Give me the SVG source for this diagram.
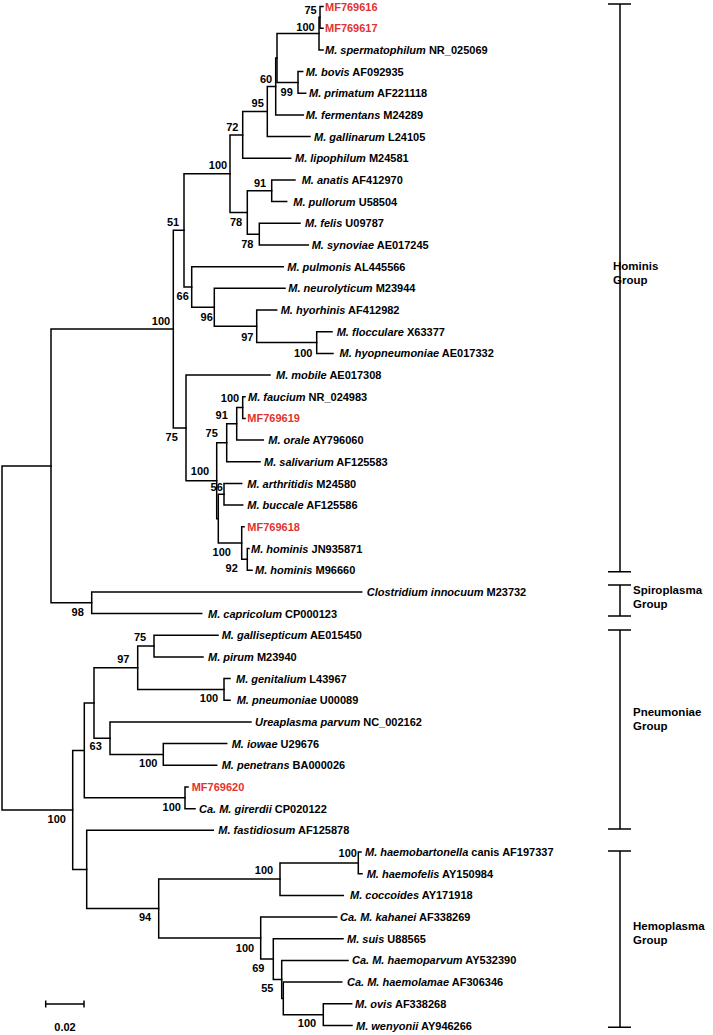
<svg xmlns="http://www.w3.org/2000/svg" width="713" height="1035" viewBox="0 0 713 1035">
<style>
.t{font-family:"Liberation Sans",Arial,sans-serif;font-size:11px;font-weight:bold;fill:#000}
.i{font-style:italic}
.red{fill:#e2332f}
.bs{font-family:"Liberation Sans",Arial,sans-serif;font-size:11px;font-weight:bold;fill:#000;text-anchor:middle}
.g{font-family:"Liberation Sans",Arial,sans-serif;font-size:11.5px;font-weight:bold;fill:#000}
.br{stroke:#000;stroke-width:1.5;fill:none;stroke-linecap:square}
.gr{stroke:#000;stroke-width:1.5;fill:none}
</style>
<rect width="713" height="1035" fill="#fff"/>
<g id="connectors" class="br">
<path d="M2 465.9V810M2 465.9H51M2 810H72.7"/>
<path d="M51 329.1V602.7M51 329.1H173.3M51 602.7H91.7"/>
<path d="M173.3 230.3V427.9M173.3 230.3H184M173.3 427.9H186"/>
<path d="M184 173.7V287M184 173.7H230M184 287H191.7"/>
<path d="M230 134.9V212.5M230 134.9H242.7M230 212.5H247.3"/>
<path d="M242.7 111.5V158.3H290.7M242.7 111.5H267.3"/>
<path d="M267.3 86.5V136.6H310M267.3 86.5H275.7"/>
<path d="M275.7 58V114.9H303.3M275.7 58H277"/>
<path d="M277 33.6V82.4M277 33.6H319M277 82.4H298"/>
<path d="M319 17.3V49.9H323M319 17.3H320"/>
<path d="M320 6.5V28.2M320 6.5H323M320 28.2H323"/>
<path d="M298 71.5V93.2M298 71.5H302.7M298 93.2H305.7"/>
<path d="M247.3 190.8V234.2M247.3 190.8H271.7M247.3 234.2H259.3"/>
<path d="M271.7 179.9V201.6M271.7 179.9H295M271.7 201.6H286.7"/>
<path d="M259.3 223.3V245M259.3 223.3H300M259.3 245H308.3"/>
<path d="M191.7 266.7V307.3M191.7 266.7H283.3M191.7 307.3H214.3"/>
<path d="M214.3 288.3V326.3M214.3 288.3H285M214.3 326.3H256.7"/>
<path d="M256.7 310V342.5M256.7 310H276.7M256.7 342.5H316.7"/>
<path d="M316.7 331.7V353.4M316.7 331.7H332M316.7 353.4H333"/>
<path d="M186 375.1V480.7M186 375.1H270M186 480.7H216.7"/>
<path d="M216.7 442.8V518.7M216.7 442.8H226.7M216.7 518.7H218.3"/>
<path d="M226.7 423.8V461.8M226.7 423.8H236.7M226.7 461.8H260"/>
<path d="M236.7 407.6V440.1M236.7 407.6H242.7M236.7 440.1H263.3"/>
<path d="M242.7 396.7V418.4M242.7 396.7H245M242.7 418.4H245"/>
<path d="M218.3 494.3V543M218.3 494.3H224M218.3 543H241.7"/>
<path d="M224 483.5V505.1M224 483.5H241.7M224 505.1H242.7"/>
<path d="M241.7 526.8V559.3M241.7 526.8H244M241.7 559.3H247.3"/>
<path d="M247.3 548.5V570.2M247.3 548.5H249M247.3 570.2H252"/>
<path d="M91.7 591.9V613.5M91.7 591.9H361.7M91.7 613.5H201.7"/>
<path d="M72.7 750.4V869.5M72.7 750.4H84.3M72.7 869.5H86.7"/>
<path d="M84.3 703V797.8M84.3 703H94M84.3 797.8H185"/>
<path d="M94 667.7V738.2M94 667.7H137.7M94 738.2H110"/>
<path d="M137.7 646V689.4M137.7 646H154M137.7 689.4H224"/>
<path d="M154 635.2V656.9M154 635.2H218M154 656.9H203"/>
<path d="M224 678.6V700.3M224 678.6H230M224 700.3H230"/>
<path d="M110 721.9V754.4M110 721.9H251M110 754.4H163.3"/>
<path d="M163.3 743.6V765.3M163.3 743.6H226.7M163.3 765.3H216.7"/>
<path d="M185 787V808.7M185 787H188M185 808.7H195"/>
<path d="M86.7 830.3V908.6M86.7 830.3H213.3M86.7 908.6H158.7"/>
<path d="M158.7 879.1V938M158.7 879.1H280M158.7 938H260.7"/>
<path d="M280 862.9V895.4M280 862.9H358.3M280 895.4H343.3"/>
<path d="M358.3 852V873.7M358.3 852H361M358.3 873.7H362"/>
<path d="M260.7 917.1V959M260.7 917.1H336.7M260.7 959H273.3"/>
<path d="M273.3 938.7V979.4M273.3 938.7H343M273.3 979.4H281.7"/>
<path d="M281.7 960.4V998.4M281.7 960.4H348M281.7 998.4H283.3"/>
<path d="M283.3 982.1V1014.7M283.3 982.1H341.7M283.3 1014.7H323.3"/>
<path d="M323.3 1003.8V1025.5M323.3 1003.8H351.7M323.3 1025.5H352"/>
</g>
<g id="leaves">
<g id="n0"><text class="t red" x="325" y="10.5">MF769616</text></g>
<g id="n1"><text class="t red" x="325" y="32.2">MF769617</text></g>
<g id="n2"><text class="t" x="325" y="53.9"><tspan class="i">M. spermatophilum</tspan> NR_025069</text></g>
<g id="n3"><text class="t" x="305.7" y="75.5"><tspan class="i">M. bovis</tspan> AF092935</text></g>
<g id="n4"><text class="t" x="309" y="97.2"><tspan class="i">M. primatum</tspan> AF221118</text></g>
<g id="n5"><text class="t" x="305.7" y="118.9"><tspan class="i">M. fermentans</tspan> M24289</text></g>
<g id="n6"><text class="t" x="314" y="140.6"><tspan class="i">M. gallinarum</tspan> L24105</text></g>
<g id="n7"><text class="t" x="295" y="162.3"><tspan class="i">M. lipophilum</tspan> M24581</text></g>
<g id="n8"><text class="t" x="301.7" y="183.9"><tspan class="i">M. anatis</tspan> AF412970</text></g>
<g id="n9"><text class="t" x="293.3" y="205.6"><tspan class="i">M. pullorum</tspan> U58504</text></g>
<g id="n10"><text class="t" x="305" y="227.3"><tspan class="i">M. felis</tspan> U09787</text></g>
<g id="n11"><text class="t" x="311.7" y="249"><tspan class="i">M. synoviae</tspan> AE017245</text></g>
<g id="n12"><text class="t" x="287.3" y="270.7"><tspan class="i">M. pulmonis</tspan> AL445566</text></g>
<g id="n13"><text class="t" x="288.3" y="292.3"><tspan class="i">M. neurolyticum</tspan> M23944</text></g>
<g id="n14"><text class="t" x="280.7" y="314"><tspan class="i">M. hyorhinis</tspan> AF412982</text></g>
<g id="n15"><text class="t" x="336.7" y="335.7"><tspan class="i">M. flocculare</tspan> X63377</text></g>
<g id="n16"><text class="t" x="339.5" y="357.4"><tspan class="i">M. hyopneumoniae</tspan> AE017332</text></g>
<g id="n17"><text class="t" x="276" y="379.1"><tspan class="i">M. mobile</tspan> AE017308</text></g>
<g id="n18"><text class="t" x="248" y="400.7"><tspan class="i">M. faucium</tspan> NR_024983</text></g>
<g id="n19"><text class="t red" x="247.3" y="422.4">MF769619</text></g>
<g id="n20"><text class="t" x="268.3" y="444.1"><tspan class="i">M. orale</tspan> AY796060</text></g>
<g id="n21"><text class="t" x="264" y="465.8"><tspan class="i">M. salivarium</tspan> AF125583</text></g>
<g id="n22"><text class="t" x="247.3" y="487.5"><tspan class="i">M. arthritidis</tspan> M24580</text></g>
<g id="n23"><text class="t" x="247.3" y="509.1"><tspan class="i">M. buccale</tspan> AF125586</text></g>
<g id="n24"><text class="t red" x="247.3" y="530.8">MF769618</text></g>
<g id="n25"><text class="t" x="251" y="552.5"><tspan class="i">M. hominis</tspan> JN935871</text></g>
<g id="n26"><text class="t" x="255" y="574.2"><tspan class="i">M. hominis</tspan> M96660</text></g>
<g id="n27"><text class="t" x="366.7" y="595.9"><tspan class="i">Clostridium innocuum</tspan> M23732</text></g>
<g id="n28"><text class="t" x="208" y="617.5"><tspan class="i">M. capricolum</tspan> CP000123</text></g>
<g id="n29"><text class="t" x="221.7" y="639.2"><tspan class="i">M. gallisepticum</tspan> AE015450</text></g>
<g id="n30"><text class="t" x="208" y="660.9"><tspan class="i">M. pirum</tspan> M23940</text></g>
<g id="n31"><text class="t" x="236" y="682.6"><tspan class="i">M. genitalium</tspan> L43967</text></g>
<g id="n32"><text class="t" x="236.7" y="704.3"><tspan class="i">M. pneumoniae</tspan> U00089</text></g>
<g id="n33"><text class="t" x="255" y="725.9"><tspan class="i">Ureaplasma parvum</tspan> NC_002162</text></g>
<g id="n34"><text class="t" x="231.7" y="747.6"><tspan class="i">M. iowae</tspan> U29676</text></g>
<g id="n35"><text class="t" x="221.7" y="769.3"><tspan class="i">M. penetrans</tspan> BA000026</text></g>
<g id="n36"><text class="t red" x="191.7" y="791">MF769620</text></g>
<g id="n37"><text class="t" x="199" y="812.7"><tspan class="i">Ca. M. girerdii</tspan> CP020122</text></g>
<g id="n38"><text class="t" x="218.3" y="834.3"><tspan class="i">M. fastidiosum</tspan> AF125878</text></g>
<g id="n39"><text class="t" x="365" y="856"><tspan class="i">M. haemobartonella</tspan> canis AF197337</text></g>
<g id="n40"><text class="t" x="366.7" y="877.7"><tspan class="i">M. haemofelis</tspan> AY150984</text></g>
<g id="n41"><text class="t" x="350" y="899.4"><tspan class="i">M. coccoides</tspan> AY171918</text></g>
<g id="n42"><text class="t" x="340" y="921.1"><tspan class="i">Ca. M. kahanei</tspan> AF338269</text></g>
<g id="n43"><text class="t" x="347" y="942.7"><tspan class="i">M. suis</tspan> U88565</text></g>
<g id="n44"><text class="t" x="352" y="964.4"><tspan class="i">Ca. M. haemoparvum</tspan> AY532390</text></g>
<g id="n45"><text class="t" x="347" y="986.1"><tspan class="i">Ca. M. haemolamae</tspan> AF306346</text></g>
<g id="n46"><text class="t" x="355" y="1007.8"><tspan class="i">M. ovis</tspan> AF338268</text></g>
<g id="n47"><text class="t" x="356" y="1029.5"><tspan class="i">M. wenyonii</tspan> AY946266</text></g>
</g>
<g id="bootstrap">
<text class="bs" x="310.5" y="13.5">75</text>
<text class="bs" x="305.5" y="30.5">100</text>
<text class="bs" x="266" y="83">60</text>
<text class="bs" x="286.7" y="96.3">99</text>
<text class="bs" x="257.7" y="107.3">95</text>
<text class="bs" x="232.3" y="130.7">72</text>
<text class="bs" x="218" y="169">100</text>
<text class="bs" x="260" y="186.7">91</text>
<text class="bs" x="236" y="225.7">78</text>
<text class="bs" x="247.3" y="248">78</text>
<text class="bs" x="173" y="226">51</text>
<text class="bs" x="182.7" y="300">66</text>
<text class="bs" x="206.7" y="320.7">96</text>
<text class="bs" x="247.3" y="340.7">97</text>
<text class="bs" x="303.3" y="357.3">100</text>
<text class="bs" x="161" y="325">100</text>
<text class="bs" x="171.7" y="440.7">75</text>
<text class="bs" x="200" y="474.7">100</text>
<text class="bs" x="211.7" y="437.3">75</text>
<text class="bs" x="221.7" y="419">91</text>
<text class="bs" x="230" y="401.7">100</text>
<text class="bs" x="216.7" y="490.7">56</text>
<text class="bs" x="221.7" y="555.7">100</text>
<text class="bs" x="231.7" y="572.3">92</text>
<text class="bs" x="77.7" y="616">98</text>
<text class="bs" x="140" y="640.7">75</text>
<text class="bs" x="123.3" y="663">97</text>
<text class="bs" x="209" y="701.7">100</text>
<text class="bs" x="95.7" y="750">63</text>
<text class="bs" x="148.3" y="767.3">100</text>
<text class="bs" x="171.7" y="810.7">100</text>
<text class="bs" x="56.7" y="823">100</text>
<text class="bs" x="145" y="920.7">94</text>
<text class="bs" x="264" y="874">100</text>
<text class="bs" x="347.7" y="857.3">100</text>
<text class="bs" x="245" y="952.3">100</text>
<text class="bs" x="258.3" y="972.3">69</text>
<text class="bs" x="267.3" y="992.3">55</text>
<text class="bs" x="307" y="1027">100</text>
</g>
<g id="groups">
<g id="hominis"><path class="gr" d="M608 4H631M620 4V571.7M608 571.7H631"/><text class="g" x="613" y="270">Hominis</text><text class="g" x="613" y="284">Group</text></g>
<g id="spiroplasma"><path class="gr" d="M608 585H631M620 585V616M608 616H631"/><text class="g" x="633" y="594">Spiroplasma</text><text class="g" x="633" y="608">Group</text></g>
<g id="pneumoniae"><path class="gr" d="M608 630H631M620 630V829M608 829H631"/><text class="g" x="633" y="715.5">Pneumoniae</text><text class="g" x="633" y="729.5">Group</text></g>
<g id="hemoplasma"><path class="gr" d="M608 851H631M620 851V1027.3M608 1027.3H631"/><text class="g" x="633" y="930">Hemoplasma</text><text class="g" x="633" y="944">Group</text></g>
</g>
<g id="scale"><path class="gr" d="M45.7 1004H84M45.7 1000.5V1007.5M84 1000.5V1007.5"/><text class="bs" x="65" y="1031">0.02</text></g>
</svg>
